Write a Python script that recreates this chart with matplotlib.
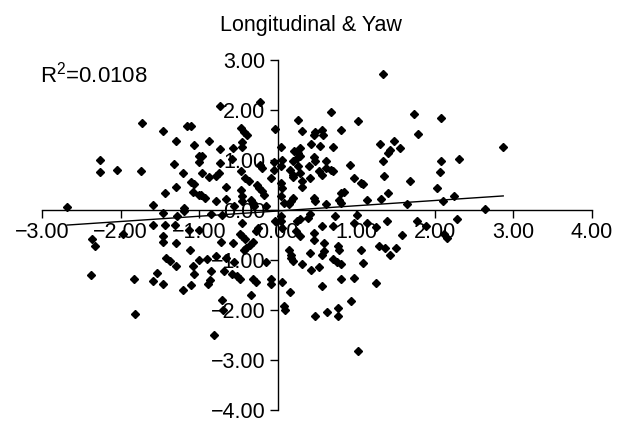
import numpy as np
import matplotlib
matplotlib.use("Agg")
import matplotlib.pyplot as plt

plt.rcParams["font.family"] = ["Liberation Sans", "DejaVu Sans"]
plt.rcParams["mathtext.fontset"] = "custom"
plt.rcParams["mathtext.rm"] = "Liberation Sans"
plt.rcParams["mathtext.it"] = "Liberation Sans"

# ---------------------------------------------------------------------------
# Data (longitudinal, yaw)
# ---------------------------------------------------------------------------
pts = [
    # upper left
    (-1.73, 1.73), (-1.46, 1.58), (-1.16, 1.68), (-1.10, 1.68), (-1.29, 1.38),
    (-1.07, 1.29), (-2.26, 0.99), (-2.26, 0.75), (-2.04, 0.79), (-1.74, 0.77),
    (-1.32, 0.92), (-1.20, 0.73), (-1.00, 1.07), (-1.00, 0.95), (-1.10, 0.55),
    (-1.06, 0.51), (-1.30, 0.45), (-1.44, 0.33), (-1.08, 0.35), (-1.00, 0.30),
    (-2.68, 0.05), (-1.59, 0.09), (-1.19, 0.03),
    # upper middle, left of axis
    (-0.22, 2.15), (-0.73, 2.07), (-0.04, 1.62), (-0.47, 1.63), (-0.43, 1.55),
    (-0.39, 1.50), (-0.88, 1.37), (-0.73, 1.22), (-0.57, 1.23), (-0.45, 1.35),
    (-0.46, 1.25), (-0.96, 1.07), (-0.58, 1.01), (-0.73, 0.93), (-0.22, 0.90),
    (-0.20, 0.83), (-0.05, 0.95), (-0.05, 0.80), (-0.96, 0.73), (-0.88, 0.65),
    (-0.79, 0.67), (-0.75, 0.73), (-0.47, 0.77), (-0.42, 0.63), (-0.37, 0.57),
    (-0.09, 0.63), (-0.66, 0.45), (-0.47, 0.40), (-0.26, 0.50), (-0.24, 0.43),
    (-0.20, 0.37), (-0.17, 0.30), (-0.98, 0.30), (-0.92, 0.23), (-0.79, 0.17),
    (-0.66, 0.21), (-0.46, 0.27), (-0.45, 0.17), (-0.34, 0.20), (-0.32, 0.13),
    (-0.30, 0.07), (-0.15, 0.07), (-0.56, 0.07),
    # upper middle, right of axis
    (0.04, 1.25), (0.06, 1.00), (0.04, 0.87), (0.26, 1.80), (0.31, 1.58),
    (0.68, 1.95), (1.02, 1.77), (0.80, 1.59), (0.57, 1.60), (0.46, 1.50),
    (0.48, 1.55), (0.58, 1.50), (0.42, 1.31), (0.54, 1.28), (0.71, 1.25),
    (0.29, 1.23), (0.21, 1.17), (0.26, 1.13), (0.29, 1.07), (0.25, 1.03),
    (0.19, 0.97), (0.46, 1.05), (0.48, 0.98), (0.62, 0.97), (0.26, 0.87),
    (0.16, 0.80), (0.19, 0.70), (0.19, 0.65), (0.29, 0.73), (0.31, 0.45),
    (0.31, 0.57), (0.40, 0.88), (0.41, 0.63), (0.53, 0.77), (0.57, 0.70),
    (0.62, 0.83), (0.68, 0.80), (0.71, 0.77), (0.92, 0.89), (0.97, 0.63),
    (0.04, 0.53), (0.06, 0.43), (0.04, 0.27), (0.08, 0.13), (0.14, 0.11),
    (0.19, 0.23), (0.17, 0.17), (0.46, 0.23), (0.48, 0.17), (0.61, 0.11),
    (0.80, 0.33), (0.84, 0.35), (0.78, 0.20), (0.80, 0.13), (1.06, 0.53),
    # upper right
    (1.34, 2.71), (1.73, 1.91), (2.08, 1.83), (1.78, 1.51), (1.30, 1.31),
    (1.48, 1.37), (1.43, 1.20), (1.41, 1.13), (1.56, 1.23), (1.34, 0.97),
    (2.08, 0.98), (2.31, 1.01), (2.87, 1.25), (2.07, 0.75), (1.35, 0.67),
    (1.09, 0.52), (1.68, 0.57), (2.03, 0.44), (1.41, 0.33), (1.14, 0.20),
    (1.31, 0.21), (2.24, 0.28), (2.11, 0.17), (1.65, 0.11), (2.64, 0.01),
    # lower left
    (-1.46, -0.07), (-1.28, -0.12), (-1.19, -0.02), (-1.59, -0.31), (-1.44, -0.30),
    (-1.31, -0.30), (-2.36, -0.59), (-2.32, -0.72), (-1.97, -0.49), (-1.46, -0.52),
    (-1.46, -0.65), (-1.30, -0.67), (-1.13, -0.41), (-1.00, -0.40), (-1.12, -0.81),
    (-1.42, -0.97), (-1.37, -1.01), (-1.30, -1.12), (-1.08, -1.11), (-1.00, -1.00),
    (-2.37, -1.29), (-1.83, -1.37), (-1.54, -1.25), (-1.59, -1.42), (-1.46, -1.47),
    (-1.07, -1.27), (-1.10, -1.50), (-1.20, -1.60), (-1.81, -2.08),
    # lower middle, left of axis
    (-0.85, -0.08), (-0.71, -0.10), (-0.45, -0.27), (-0.25, -0.37), (-0.28, -0.43),
    (-0.48, -0.48), (-0.45, -0.53), (-0.41, -0.59), (-0.72, -0.65), (-0.57, -0.67),
    (-0.40, -0.77), (-0.35, -0.70), (-0.32, -0.65), (-0.43, -0.80), (-0.79, -0.93),
    (-0.90, -0.99), (-0.66, -0.97), (-0.56, -1.03), (-0.15, -1.03), (-0.85, -1.22),
    (-0.68, -1.22), (-0.58, -1.27), (-0.52, -1.31), (-0.48, -1.37), (-0.86, -1.40),
    (-0.89, -1.48), (-0.32, -1.37), (-0.28, -1.43), (-0.09, -1.38), (-0.08, -1.47),
    (-0.34, -1.69), (-0.71, -1.80), (-0.69, -1.99), (-0.81, -2.49), (-0.03, -0.23),
    # lower middle, right of axis
    (0.04, -0.13), (0.04, -0.23), (0.05, -0.37), (0.25, -0.23), (0.28, -0.19),
    (0.39, -0.17), (0.41, -0.08), (0.23, -0.43), (0.28, -0.52), (0.46, -0.47),
    (0.46, -0.60), (0.57, -0.32), (0.73, -0.12), (0.71, -0.32), (0.97, -0.27),
    (1.01, -0.10), (0.59, -0.67), (0.59, -0.82), (0.57, -0.90), (0.41, -0.87),
    (0.77, -0.73), (0.78, -0.80), (0.71, -0.99), (0.76, -1.03), (0.80, -1.07),
    (0.14, -0.81), (0.17, -0.90), (0.17, -0.97), (0.20, -1.01), (0.31, -1.08),
    (0.42, -1.19), (0.53, -1.13), (0.05, -1.43), (0.16, -1.64), (0.57, -1.52),
    (0.80, -1.37), (0.97, -1.35), (0.93, -1.81), (0.77, -1.95), (0.77, -2.12),
    (0.63, -2.03), (0.48, -2.12), (0.08, -1.92), (0.09, -1.99), (1.02, -2.82),
    # lower right
    (1.14, -0.27), (1.25, -0.35), (1.39, -0.23), (1.77, -0.22), (1.89, -0.32),
    (2.28, -0.18), (1.58, -0.50), (1.29, -0.73), (1.36, -0.77), (1.43, -0.91),
    (1.51, -0.77), (1.06, -0.80), (1.09, -1.05), (1.25, -1.45), (2.12, -0.49),
    (2.16, -0.57),
]
longitudinal = [p[0] for p in pts]
yaw = [p[1] for p in pts]

# linear trend as shown in the chart
trend_slope = 0.105
trend_intercept = -0.02
r_squared = 0.0108

x_ticks = [-3, -2, -1, 0, 1, 2, 3, 4]
y_ticks = [-4, -3, -2, -1, 0, 1, 2, 3]

# ---------------------------------------------------------------------------
# Plot
# ---------------------------------------------------------------------------
fig = plt.figure(figsize=(6.25, 4.23), dpi=100)
ax = fig.add_axes([0.0672, 0.0307, 0.88, 0.8275])

ax.plot(longitudinal, yaw, linestyle="none", marker="D", markersize=3.8,
        color="black", zorder=3, clip_on=False)

tx = np.array([min(longitudinal), max(longitudinal)])
ax.plot(tx, trend_slope * tx + trend_intercept, color="black", lw=1.0, zorder=3)

ax.set_xlim(-3, 4)
ax.set_ylim(-4, 3)
ax.set_xticks(x_ticks)
ax.set_yticks(y_ticks)
ax.set_xticklabels([f"{v:.2f}".replace("-", "\u2212") for v in x_ticks])
ax.set_yticklabels([f"{v:.2f}".replace("-", "\u2212") for v in y_ticks])

ax.spines["left"].set_position(("data", 0))
ax.spines["bottom"].set_position(("data", 0))
ax.spines["top"].set_visible(False)
ax.spines["right"].set_visible(False)
for s in ("left", "bottom"):
    ax.spines[s].set_linewidth(1.0)
ax.set_axisbelow(True)
ax.tick_params(axis="both", direction="out", length=6, width=1.0, labelsize=15.5)
ax.tick_params(axis="x", pad=3)
ax.tick_params(axis="y", pad=3)

fig.text(0.497, 0.94, "Longitudinal & Yaw", ha="center", va="center", fontsize=15.5)
fig.text(0.064, 0.823, r"R$^{2}$" + f"={r_squared:.4f}", ha="left", va="center",
         fontsize=16)

fig.savefig("out.png", dpi=100)
